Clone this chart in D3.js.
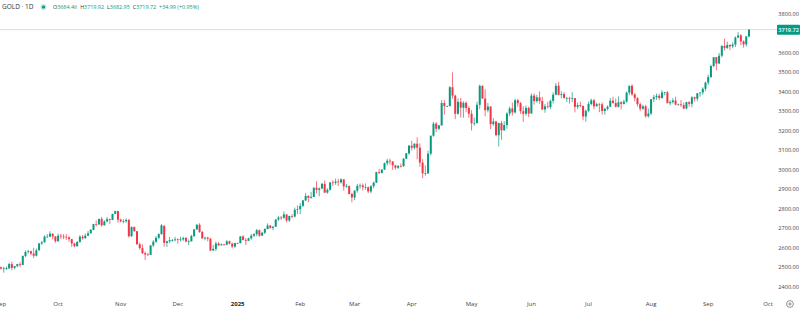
<!DOCTYPE html>
<html>
<head>
<meta charset="utf-8">
<script src="https://cdn.jsdelivr.net/npm/d3@7"></script>
<style>
  html, body { margin: 0; padding: 0; background: #fff; }
  svg { display: block; font-family: "Open Sans", "Noto Sans", sans-serif; }
</style>
</head>
<body>
<svg id="chart" width="800" height="329"></svg>
<script>
// GOLD daily candles, Sep 2 2024 – Sep 22 2025 (one bar per weekday)
const symbol = "GOLD · 1D";
const firstDay = new Date(2024, 8, 2);
const lastAxisDay = new Date(2025, 9, 1);

const opens = [
  // Sep 2024
  2500, 2493, 2493, 2494, 2516, 2497, 2506, 2516, 2512, 2558, 2578, 2582, 2570, 2559, 2587, 2622, 2628, 2657, 2657, 2672, 2658,
  // Oct
  2634, 2662, 2658, 2656, 2653, 2644, 2622, 2608, 2630, 2657, 2649, 2662, 2674, 2692, 2721, 2720, 2748, 2715, 2735, 2747, 2743, 2774, 2788,
  // Nov
  2744, 2736, 2736, 2743, 2659, 2706, 2685, 2618, 2598, 2572, 2565, 2563, 2612, 2631, 2651, 2670, 2712, 2625, 2633, 2639, 2639,
  // Dec
  2643, 2640, 2643, 2650, 2632, 2633, 2660, 2694, 2718, 2681, 2648, 2652, 2646, 2586, 2594, 2622, 2612, 2617, 2616, 2633, 2621, 2606,
  // Jan 2025
  2624, 2624, 2658, 2640, 2636, 2648, 2662, 2670, 2690, 2662, 2677, 2696, 2714, 2702, 2708, 2745, 2755, 2754, 2771, 2740, 2763, 2760, 2795,
  // Feb
  2798, 2815, 2843, 2866, 2856, 2861, 2908, 2897, 2904, 2928, 2883, 2898, 2935, 2933, 2940, 2936, 2951, 2915, 2916, 2876,
  // Mar
  2858, 2893, 2918, 2920, 2911, 2910, 2889, 2916, 2934, 2988, 2984, 3001, 3034, 3047, 3043, 3023, 3011, 3020, 3019, 3057, 3085,
  // Apr
  3124, 3113, 3134, 3114, 3037, 2982, 2982, 3083, 3175, 3237, 3211, 3228, 3343, 3327, 3327, 3424, 3381, 3288, 3349, 3319, 3344, 3317,
  // May
  3288, 3239, 3241, 3334, 3431, 3366, 3306, 3325, 3235, 3248, 3178, 3240, 3203, 3230, 3289, 3315, 3295, 3357, 3342, 3301, 3288, 3318,
  // Jun
  3289, 3381, 3353, 3372, 3353, 3310, 3326, 3322, 3354, 3386, 3432, 3385, 3389, 3369, 3369, 3368, 3368, 3323, 3332, 3328, 3274,
  // Jul
  3303, 3338, 3357, 3326, 3337, 3336, 3302, 3313, 3324, 3355, 3343, 3324, 3347, 3339, 3350, 3396, 3431, 3387, 3368, 3337, 3314, 3326, 3275,
  // Aug
  3289, 3363, 3373, 3380, 3369, 3397, 3398, 3342, 3348, 3356, 3335, 3336, 3332, 3315, 3347, 3339, 3372, 3365, 3393, 3397, 3416,
  // Sep
  3448, 3476, 3533, 3578, 3546, 3586, 3636, 3626, 3641, 3634, 3643, 3679, 3690, 3660, 3644, 3684.46
];

const highs = [
  2504, 2503, 2503, 2523, 2529, 2507, 2518, 2527, 2560, 2586, 2589, 2585, 2600, 2596, 2625, 2634, 2664, 2670, 2685, 2674, 2660,
  2673, 2672, 2670, 2670, 2660, 2646, 2625, 2633, 2664, 2666, 2673, 2686, 2696, 2723, 2740, 2749, 2758, 2741, 2758, 2750, 2774, 2790, 2790,
  2750, 2746, 2750, 2747, 2710, 2710, 2685, 2627, 2618, 2580, 2574, 2614, 2639, 2660, 2674, 2721, 2716, 2636, 2655, 2646, 2656,
  2649, 2657, 2657, 2656, 2643, 2667, 2696, 2721, 2726, 2687, 2656, 2656, 2651, 2614, 2632, 2629, 2622, 2620, 2639, 2637, 2626, 2626,
  2626, 2660, 2665, 2650, 2652, 2671, 2674, 2697, 2694, 2682, 2700, 2725, 2715, 2711, 2747, 2764, 2763, 2786, 2772, 2765, 2773, 2806, 2817,
  2830, 2845, 2882, 2869, 2886, 2910, 2942, 2910, 2933, 2946, 2905, 2938, 2947, 2955, 2954, 2956, 2952, 2927, 2921, 2882,
  2896, 2928, 2930, 2930, 2930, 2915, 2921, 2940, 2990, 3005, 3004, 3038, 3057, 3057, 3044, 3025, 3025, 3032, 3060, 3087, 3128,
  3149, 3136, 3167, 3136, 3055, 3023, 3099, 3176, 3245, 3245, 3229, 3358, 3357, 3330, 3430, 3500, 3386, 3367, 3370, 3352, 3352, 3328,
  3306, 3269, 3350, 3438, 3434, 3414, 3343, 3325, 3265, 3252, 3241, 3252, 3250, 3296, 3325, 3345, 3366, 3364, 3348, 3326, 3330, 3325,
  3392, 3392, 3385, 3403, 3375, 3338, 3349, 3360, 3398, 3446, 3451, 3403, 3399, 3375, 3375, 3398, 3368, 3345, 3350, 3330, 3310,
  3350, 3366, 3365, 3345, 3343, 3346, 3318, 3331, 3368, 3375, 3366, 3377, 3352, 3360, 3402, 3434, 3439, 3394, 3373, 3346, 3334, 3334, 3315,
  3363, 3385, 3391, 3391, 3409, 3400, 3405, 3358, 3368, 3375, 3340, 3358, 3345, 3350, 3352, 3378, 3376, 3394, 3398, 3424, 3453,
  3489, 3540, 3578, 3580, 3600, 3640, 3674, 3658, 3645, 3655, 3685, 3707, 3697, 3664, 3687, 3719.92
];

const lows = [
  2488, 2472, 2485, 2492, 2485, 2490, 2500, 2500, 2510, 2552, 2570, 2562, 2547, 2555, 2585, 2614, 2626, 2651, 2654, 2643, 2625,
  2630, 2644, 2644, 2640, 2630, 2605, 2603, 2605, 2625, 2641, 2645, 2661, 2673, 2690, 2709, 2716, 2708, 2715, 2730, 2722, 2742, 2772, 2729,
  2730, 2725, 2728, 2652, 2656, 2683, 2615, 2590, 2568, 2537, 2560, 2563, 2604, 2625, 2644, 2667, 2605, 2604, 2624, 2631, 2632,
  2621, 2632, 2635, 2627, 2613, 2632, 2655, 2692, 2676, 2646, 2638, 2633, 2583, 2584, 2583, 2610, 2612, 2612, 2612, 2617, 2597, 2600,
  2620, 2622, 2638, 2614, 2634, 2641, 2655, 2659, 2656, 2662, 2670, 2695, 2697, 2690, 2707, 2738, 2743, 2749, 2730, 2732, 2751, 2755, 2773,
  2772, 2810, 2840, 2834, 2853, 2861, 2880, 2864, 2902, 2880, 2877, 2893, 2917, 2923, 2917, 2929, 2893, 2908, 2873, 2833,
  2844, 2883, 2903, 2894, 2898, 2880, 2880, 2905, 2932, 2978, 2982, 3000, 3022, 3026, 2999, 3001, 3004, 3012, 3015, 3054, 3076,
  3100, 3105, 3054, 3015, 2957, 2970, 2979, 3074, 3170, 3194, 3204, 3226, 3283, 3325, 3326, 3366, 3260, 3283, 3268, 3268, 3296, 3268,
  3202, 3226, 3236, 3312, 3365, 3275, 3295, 3208, 3225, 3172, 3120, 3154, 3200, 3211, 3276, 3278, 3288, 3324, 3287, 3246, 3278, 3271,
  3289, 3335, 3344, 3339, 3307, 3293, 3315, 3312, 3340, 3383, 3382, 3367, 3366, 3348, 3340, 3348, 3295, 3312, 3320, 3255, 3247,
  3295, 3330, 3311, 3326, 3296, 3283, 3283, 3305, 3322, 3340, 3320, 3320, 3310, 3335, 3345, 3383, 3380, 3351, 3325, 3301, 3308, 3268, 3268,
  3281, 3348, 3359, 3358, 3364, 3382, 3342, 3332, 3340, 3331, 3330, 3323, 3311, 3311, 3324, 3321, 3351, 3352, 3375, 3385, 3405,
  3436, 3472, 3527, 3511, 3543, 3577, 3613, 3620, 3614, 3624, 3630, 3676, 3640, 3627, 3633, 3682.95
];

const closes = [
  2493, 2494, 2495, 2516, 2497, 2506, 2516, 2512, 2558, 2578, 2582, 2570, 2559, 2587, 2622, 2628, 2657, 2657, 2672, 2658, 2634,
  2662, 2658, 2656, 2653, 2644, 2622, 2608, 2630, 2657, 2649, 2662, 2674, 2692, 2721, 2720, 2748, 2715, 2735, 2747, 2743, 2774, 2788, 2744,
  2736, 2736, 2743, 2659, 2706, 2685, 2618, 2598, 2572, 2565, 2563, 2612, 2631, 2651, 2670, 2715, 2625, 2633, 2639, 2639, 2643,
  2640, 2643, 2650, 2632, 2633, 2660, 2694, 2718, 2681, 2648, 2652, 2646, 2586, 2594, 2622, 2612, 2617, 2616, 2633, 2621, 2606, 2624,
  2624, 2658, 2640, 2636, 2648, 2662, 2670, 2690, 2662, 2677, 2696, 2714, 2702, 2708, 2745, 2755, 2754, 2771, 2740, 2763, 2760, 2795, 2798,
  2815, 2843, 2866, 2856, 2861, 2908, 2897, 2904, 2928, 2883, 2898, 2935, 2933, 2940, 2936, 2951, 2915, 2916, 2876, 2858,
  2893, 2918, 2920, 2911, 2910, 2889, 2916, 2934, 2988, 2984, 3001, 3034, 3047, 3043, 3023, 3011, 3020, 3019, 3057, 3085, 3124,
  3113, 3134, 3114, 3037, 2982, 2982, 3083, 3175, 3237, 3211, 3228, 3343, 3327, 3327, 3424, 3381, 3288, 3349, 3319, 3344, 3317, 3288,
  3239, 3241, 3334, 3431, 3366, 3306, 3325, 3235, 3248, 3178, 3240, 3203, 3230, 3289, 3315, 3295, 3357, 3342, 3301, 3288, 3318, 3289,
  3381, 3353, 3372, 3353, 3310, 3326, 3322, 3354, 3386, 3432, 3385, 3389, 3369, 3369, 3368, 3368, 3323, 3332, 3328, 3274, 3303,
  3338, 3357, 3326, 3337, 3336, 3302, 3313, 3324, 3355, 3343, 3324, 3347, 3339, 3350, 3396, 3431, 3387, 3368, 3337, 3314, 3326, 3275, 3289,
  3363, 3373, 3380, 3369, 3397, 3398, 3342, 3348, 3356, 3335, 3336, 3332, 3315, 3347, 3339, 3372, 3365, 3393, 3397, 3416, 3448,
  3476, 3533, 3578, 3546, 3586, 3636, 3626, 3641, 3634, 3643, 3679, 3690, 3660, 3644, 3684.73, 3719.72
];

const priceTicks = [2400, 2500, 2600, 2700, 2800, 2900, 3000, 3100, 3200, 3300, 3400, 3500, 3600, 3800];
const monthLabels = ["Sep", "Oct", "Nov", "Dec", "2025", "Feb", "Mar", "Apr", "May", "Jun", "Jul", "Aug", "Sep", "Oct"];

const UP = "#089981", DOWN = "#f23645";

// weekday calendar: one slot per bar, extended past the last bar to Oct 1
const days = d3.timeDay.range(firstDay, d3.timeDay.offset(lastAxisDay, 1))
  .filter(d => d.getDay() !== 0 && d.getDay() !== 6);

const n = closes.length;
const svg = d3.select("#chart");

const x = d3.scaleLinear().domain([0, days.length - 1]).range([1, 1 + (days.length - 1) * 2.72]);
const y = d3.scaleLinear().domain([2400, 3800]).range([286.7, 14]);

// last price line
const last = closes[n - 1];
svg.append("line")
  .attr("x1", 0).attr("x2", 777)
  .attr("y1", y(last)).attr("y2", y(last))
  .attr("stroke", UP).attr("stroke-opacity", 0.3).attr("stroke-width", 0.8);

// candles
const bars = d3.range(n).map(i => ({ i, o: opens[i], h: highs[i], l: lows[i], c: closes[i] }));
const g = svg.append("g");
g.selectAll("line.wick").data(bars).join("line")
  .attr("class", "wick")
  .attr("x1", d => x(d.i)).attr("x2", d => x(d.i))
  .attr("y1", d => y(d.h)).attr("y2", d => y(d.l))
  .attr("stroke", d => d.c >= d.o ? UP : DOWN)
  .attr("stroke-width", 0.7);
g.selectAll("rect.body").data(bars).join("rect")
  .attr("class", "body")
  .attr("x", d => x(d.i) - 1).attr("width", 2)
  .attr("y", d => y(Math.max(d.o, d.c)))
  .attr("height", d => Math.max(0.7, Math.abs(y(d.o) - y(d.c))))
  .attr("fill", d => d.c >= d.o ? UP : DOWN);

// right price scale
const yAxis = svg.append("g").attr("font-size", 5.6).attr("fill", "#444").attr("text-anchor", "end");
yAxis.selectAll("text").data(priceTicks).join("text")
  .attr("x", 799).attr("y", d => y(d)).attr("dy", "0.35em")
  .text(d => d3.format(".2f")(d));

// last price tag
svg.append("rect").attr("x", 777).attr("y", y(last) - 5).attr("width", 23).attr("height", 10)
  .attr("fill", UP).attr("rx", 1);
svg.append("text").attr("x", 799).attr("y", y(last)).attr("dy", "0.35em")
  .attr("text-anchor", "end")
  .attr("font-size", 5.6).attr("font-weight", 600).attr("fill", "#fff")
  .text(d3.format(".2f")(last));

// time scale: first weekday of each month
const monthStarts = days.filter((d, i) => i === 0 || d.getMonth() !== days[i - 1].getMonth());
const xAxis = svg.append("g").attr("font-size", 6).attr("fill", "#444").attr("text-anchor", "middle");
xAxis.selectAll("text").data(monthStarts).join("text")
  .attr("x", d => x(days.indexOf(d)))
  .attr("y", 304).attr("dy", "0.35em")
  .attr("font-weight", (d, i) => monthLabels[i] === "2025" ? 700 : 400)
  .attr("fill", (d, i) => monthLabels[i] === "2025" ? "#222" : "#444")
  .text((d, i) => monthLabels[i]);

// settings button
const gear = svg.append("g").attr("transform", "translate(790,304)");
gear.append("circle").attr("r", 3.4).attr("fill", "none").attr("stroke", "#666").attr("stroke-width", 0.7);
gear.append("circle").attr("r", 1.1).attr("fill", "none").attr("stroke", "#666").attr("stroke-width", 0.7);

// legend
const prev = closes[n - 2];
const chg = last - prev;
svg.append("text").attr("x", 2).attr("y", 9.3)
  .attr("font-size", 6.5).attr("fill", "#333").text(symbol);
svg.append("circle").attr("cx", 43.5).attr("cy", 7).attr("r", 3).attr("fill", UP).attr("fill-opacity", 0.25);
svg.append("circle").attr("cx", 43.5).attr("cy", 7).attr("r", 1.6).attr("fill", UP);

const legend = svg.append("text").attr("x", 53).attr("y", 9).attr("font-size", 5.4);
const parts = [
  ["O", opens[n - 1]], ["H", highs[n - 1]], ["L", lows[n - 1]], ["C", last]
];
parts.forEach(([k, v], j) => {
  legend.append("tspan").attr("fill", "#333").attr("dx", j ? 3 : 0).text(k);
  legend.append("tspan").attr("fill", UP).text(d3.format(".2f")(v));
});
legend.append("tspan").attr("fill", UP).attr("dx", 3)
  .text((chg >= 0 ? "+" : "") + d3.format(".2f")(chg) + " (" + (chg >= 0 ? "+" : "") + d3.format(".2f")(chg / prev * 100) + "%)");
</script>
</body>
</html>
